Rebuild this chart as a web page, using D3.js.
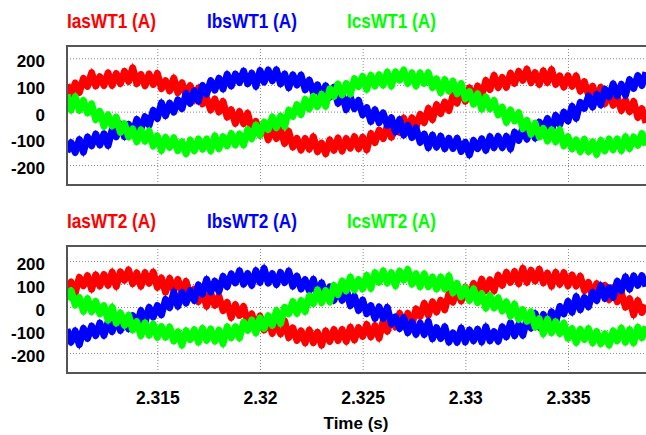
<!DOCTYPE html>
<html>
<head>
<meta charset="utf-8">
<script src="https://cdn.jsdelivr.net/npm/d3@7"></script>
<style>
  body { margin: 0; background: #fff; }
  svg { display: block; font-family: "Liberation Sans", Arial, sans-serif; }
</style>
</head>
<body>
<svg id="chart" width="646" height="435"></svg>
<script>
// phase currents, one sample every 0.2 ms from t = 2.3106 s
const tStart = 2.3106;
const tStep = 0.0002;

const iasWT1 = [
  101,65,107,72,125,95,146,96,131,98,
  145,98,143,105,151,113,164,105,139,97,
  141,102,143,86,116,78,126,71,108,62,
  97,43,88,29,52,6,47,-1,38,-21,
  7,-44,0,-45,-6,-68,-37,-88,-54,-105,
  -61,-101,-68,-119,-74,-133,-100,-144,-101,-141,
  -94,-150,-118,-158,-106,-145,-99,-147,-101,-137,
  -94,-139,-96,-143,-82,-116,-69,-101,-54,-96,
  -46,-78,-24,-70,-23,-59,-10,-41,12,-30,
  26,-7,36,4,61,32,89,39,89,50,
  96,60,117,83,136,90,128,91,144,106,
  151,117,159,109,146,102,153,109,158,102,
  134,92,134,95,134,77,112,62,95,51,
  91,30,73,24,54,4,44,0,38,-22,
  11,-42
];
const ibsWT1 = [
  -151,-116,-153,-105,-152,-95,-128,-84,-125,-83,
  -127,-67,-94,-48,-94,-48,-85,-29,-65,-19,
  -51,5,-26,33,-15,32,-2,44,11,68,
  31,78,39,98,66,116,81,125,85,140,
  96,141,109,152,105,144,95,154,111,156,
  116,157,104,141,90,138,100,137,82,118,
  70,100,53,97,54,91,31,67,8,54,
  11,42,-12,15,-37,7,-41,-5,-52,-23,
  -76,-30,-88,-52,-97,-61,-115,-84,-135,-88,
  -133,-92,-139,-100,-138,-100,-149,-115,-162,-108,
  -139,-102,-145,-94,-135,-93,-135,-93,-140,-77,
  -108,-62,-103,-60,-99,-39,-66,-26,-71,-14,
  -49,-2,-35,20,-25,35,12,58,17,65,
  25,84,55,104,59,102,61,120,87,135,
  98,147
];
const icsWT1 = [
  64,6,56,5,42,-5,29,-30,1,-55,
  -12,-54,-21,-78,-45,-95,-65,-113,-68,-111,
  -72,-129,-91,-146,-96,-134,-98,-146,-113,-158,
  -107,-147,-103,-141,-103,-147,-91,-139,-94,-128,
  -82,-125,-84,-125,-67,-102,-50,-88,-39,-67,
  -20,-60,-17,-56,6,-18,26,-11,46,10,
  57,19,65,20,86,57,103,63,105,66,
  124,94,132,83,136,96,138,99,148,96,
  149,118,156,106,145,96,145,106,146,90,
  123,71,120,77,114,67,105,48,75,28,
  67,9,55,10,42,-12,17,-40,6,-35,
  -4,-64,-33,-85,-44,-95,-63,-110,-68,-113,
  -67,-128,-94,-140,-106,-150,-104,-150,-113,-160,
  -108,-147,-103,-143,-103,-146,-94,-139,-95,-126,
  -82,-126
];

const iasWT2 = [
  59,108,60,129,92,136,77,140,91,141,
  94,152,89,153,116,161,101,148,90,149,
  103,152,85,126,64,124,73,119,64,111,
  44,77,23,71,3,60,7,47,-16,20,
  -46,10,-37,2,-69,-30,-91,-40,-100,-60,
  -115,-64,-117,-60,-133,-91,-145,-104,-156,-100,
  -155,-110,-166,-104,-150,-98,-146,-98,-150,-88,
  -143,-90,-128,-76,-130,-81,-136,-60,-106,-45,
  -86,-28,-81,-28,-77,-8,-41,16,-36,22,
  -22,29,-12,57,21,82,26,86,32,102,
  67,120,71,118,70,138,94,150,107,154,
  101,168,107,159,113,164,105,147,90,150,
  98,149,92,139,91,134,71,107,45,102,
  58,94,32,84,23,62,-1,36,-34,28,
  -24,8
];
const ibsWT2 = [
  -97,-153,-104,-164,-93,-137,-83,-124,-70,-124,
  -66,-107,-46,-102,-50,-95,-38,-78,-16,-68,
  -2,-44,6,-34,33,-3,65,3,63,17,
  71,28,96,56,120,65,112,68,133,88,
  144,105,157,99,145,94,158,107,168,104,
  145,97,150,106,156,90,134,78,119,70,
  120,49,105,47,87,29,79,29,76,6,
  47,-15,30,-29,6,-50,0,-50,-2,-74,
  -43,-94,-47,-112,-66,-119,-70,-120,-63,-138,
  -90,-137,-86,-153,-113,-154,-92,-152,-100,-147,
  -97,-152,-86,-147,-107,-149,-86,-130,-69,-125,
  -77,-123,-54,-92,-29,-87,-33,-78,-21,-67,
  2,-30,24,-23,45,-12,41,1,64,28,
  93,37,83,42,112,71,131,77,135,94,
  136,90
];
const icsWT2 = [
  32,71,8,42,-19,36,-20,24,-30,6,
  -57,0,-70,-26,-80,-36,-100,-64,-125,-69,
  -123,-74,-132,-85,-132,-87,-148,-108,-166,-103,
  -142,-99,-153,-93,-145,-96,-149,-101,-160,-86,
  -134,-86,-135,-66,-102,-57,-113,-48,-93,-38,
  -80,-16,-72,-1,-30,23,-28,28,-20,49,
  14,74,19,71,22,94,54,113,70,130,
  74,119,78,137,81,149,107,157,104,149,
  92,156,117,163,99,144,88,144,88,130,
  78,130,78,135,61,102,45,84,28,79,
  19,58,-5,50,-4,40,-17,22,-40,12,
  -54,-12,-62,-21,-88,-51,-117,-54,-112,-64,
  -116,-70,-136,-94,-155,-97,-141,-94,-156,-107,
  -160,-117,-166,-104,-147,-92,-153,-98,-156,-88,
  -134,-85
];

const namesWT1 = ["IasWT1 (A)", "IbsWT1 (A)", "IcsWT1 (A)"];
const namesWT2 = ["IasWT2 (A)", "IbsWT2 (A)", "IcsWT2 (A)"];
const phaseColors = ["#ff0000", "#0000ff", "#00ff00"];
const yTicks = [-200, -100, 0, 100, 200];
const xTicks = [2.315, 2.32, 2.325, 2.33, 2.335];
const xTickLabels = ["2.315", "2.32", "2.325", "2.33", "2.335"];

const svg = d3.select("#chart");
const left = 67;
const right = 646;

const x = d3.scaleLinear()
  .domain([2.3106, 2.3388])
  .range([left, right]);

const panels = [
  { id: "wt1", names: namesWT1, series: [iasWT1, ibsWT1, icsWT1], top: 46, bottom: 185, domain: [-275, 246], titleY: 28 },
  { id: "wt2", names: namesWT2, series: [iasWT2, ibsWT2, icsWT2], top: 246, bottom: 373, domain: [-287, 265], titleY: 228 }
];

function drawPanel(p) {
  const y = d3.scaleLinear().domain(p.domain).range([p.bottom, p.top]);
  const g = svg.append("g");

  g.append("clipPath").attr("id", "clip-" + p.id)
    .append("rect")
    .attr("x", left).attr("y", p.top)
    .attr("width", right - left + 20).attr("height", p.bottom - p.top);

  // dotted grid
  g.append("g")
    .attr("class", "grid")
    .attr("transform", `translate(${left},0)`)
    .call(d3.axisLeft(y).tickValues(yTicks).tickSize(-(right - left)).tickFormat(""));
  g.append("g")
    .attr("class", "grid")
    .attr("transform", `translate(0,${p.bottom})`)
    .call(d3.axisBottom(x).tickValues(xTicks).tickSize(-(p.bottom - p.top)).tickFormat(""));
  g.selectAll(".grid .domain").remove();
  g.selectAll(".grid line")
    .attr("stroke", "#8a8a8a")
    .attr("stroke-width", 1)
    .attr("stroke-dasharray", "1,2");

  const line = d3.line()
    .x((d, i) => x(tStart + i * tStep))
    .y(d => y(d));

  // each trace: a wide body plus a miter-joined pass for the spiky edge
  const traces = g.append("g")
    .attr("clip-path", `url(#clip-${p.id})`)
    .selectAll("g")
    .data(p.series)
    .join("g")
    .attr("stroke", (d, i) => phaseColors[i])
    .attr("fill", "none");

  traces.append("path")
    .attr("d", line)
    .attr("stroke-width", 7)
    .attr("stroke-linejoin", "round");

  traces.append("path")
    .attr("d", line)
    .attr("stroke-width", 3)
    .attr("stroke-linejoin", "miter")
    .attr("stroke-miterlimit", 8);

  // frame, right edge runs past the window
  g.append("rect")
    .attr("x", left).attr("y", p.top)
    .attr("width", right - left + 20).attr("height", p.bottom - p.top)
    .attr("fill", "none")
    .attr("stroke", "#555")
    .attr("stroke-width", 2);

  const yAxis = g.append("g")
    .attr("transform", `translate(${left},0)`)
    .call(d3.axisLeft(y).tickValues(yTicks).tickSize(0).tickPadding(22).tickFormat(d => String(d)));
  yAxis.select(".domain").remove();
  yAxis.selectAll("text")
    .attr("dy", "0.5em")
    .style("font-size", "17px")
    .style("font-weight", "bold")
    .style("font-family", "'Liberation Sans', Arial, sans-serif")
    .attr("fill", "#000");

  g.selectAll("text.title")
    .data(p.names)
    .join("text")
    .attr("class", "title")
    .attr("x", (d, i) => left + i * 140)
    .attr("y", p.titleY)
    .attr("fill", (d, i) => phaseColors[i])
    .style("font-size", "21px")
    .style("font-weight", "bold")
    .text(d => d)
    .each(function () {
      this.setAttribute("textLength", this.getComputedTextLength() * 0.82);
      this.setAttribute("lengthAdjust", "spacingAndGlyphs");
    });

  return y;
}

panels.forEach(drawPanel);

const last = panels[panels.length - 1];
const xAxis = svg.append("g")
  .attr("transform", `translate(0,${last.bottom})`)
  .call(d3.axisBottom(x).tickValues(xTicks).tickSize(0).tickPadding(19).tickFormat((d, i) => xTickLabels[i]));
xAxis.select(".domain").remove();
xAxis.selectAll("text")
  .style("font-size", "17.5px")
  .style("font-weight", "bold")
  .style("font-family", "'Liberation Sans', Arial, sans-serif")
  .attr("fill", "#000");

svg.append("text")
  .attr("x", 356)
  .attr("y", 429)
  .attr("text-anchor", "middle")
  .style("font-size", "17px")
  .style("font-weight", "bold")
  .text("Time (s)");
</script>
</body>
</html>
